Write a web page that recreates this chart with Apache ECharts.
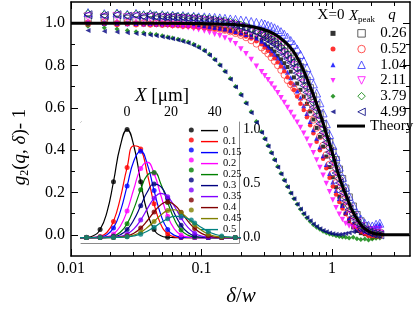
<!DOCTYPE html>
<html><head><meta charset="utf-8">
<script src="https://cdn.jsdelivr.net/npm/echarts@6/dist/echarts.min.js"></script>
<style>html,body{margin:0;padding:0;background:#fff}#c{width:415px;height:310px}</style>
</head><body><div id="c"></div>
<script>
const FONT = "'Liberation Serif','DejaVu Serif',serif";

// ---------- main panel data ----------
const deltaW = [0.0135,0.018,0.0225,0.027,0.0315,0.036,0.0405,0.045,
0.05,0.055,0.06,0.066,0.072,0.079,0.087,0.095,0.105,0.115,0.126,0.138,0.151,0.166,0.182,0.2,0.219,0.24,0.263,0.288,
0.305,0.323,0.342,0.362,0.383,0.406,0.43,0.455,0.482,0.51,0.54,0.572,0.606,0.641,0.679,0.719,0.761,0.806,0.853,0.903,0.956,1.012,1.072,1.135,1.2,1.27,
1.35,1.45,1.55,1.66,1.78,1.9,2.03,2.17,2.32];

const qLabels = ['0.26','0.52','1.04','2.11','3.79','4.99'];

// X = 0 (filled symbols)
const fill026 = [1.0,0.998,1.0,0.997,0.999,0.996,0.998,0.995,
0.997,0.994,0.996,0.993,0.994,0.99,0.992,0.988,0.986,0.985,0.981,0.978,0.974,0.97,0.964,0.958,0.95,0.942,0.932,0.92,
0.9,0.89,0.879,0.866,0.846,0.829,0.811,0.793,0.771,0.744,0.715,0.685,0.653,0.619,0.583,0.545,0.505,0.463,0.417,0.37,0.32,0.272,0.225,0.18,0.14,0.1,
0.063,0.035,0.018,0.008,0.003,0.0,-0.005,0.0,0.005];
const fill052 = [0.995,0.997,0.993,0.996,0.992,0.995,0.991,0.994,
0.99,0.992,0.989,0.99,0.987,0.986,0.984,0.982,0.98,0.977,0.973,0.97,0.965,0.96,0.953,0.946,0.937,0.927,0.915,0.9,
0.885,0.87,0.852,0.834,0.815,0.795,0.773,0.745,0.716,0.685,0.653,0.619,0.59,0.555,0.518,0.48,0.44,0.40,0.36,0.315,0.27,0.228,0.19,0.155,0.125,0.098,
0.075,0.05,0.03,0.015,0.005,-0.005,-0.015,-0.01,-0.005];
const fill104 = [1.0,0.998,1.0,0.997,0.999,0.996,0.998,0.995,
0.996,0.994,0.995,0.992,0.993,0.99,0.99,0.987,0.985,0.983,0.98,0.976,0.972,0.967,0.961,0.955,0.947,0.938,0.927,0.914,
0.9,0.886,0.87,0.853,0.835,0.815,0.793,0.768,0.742,0.712,0.68,0.646,0.61,0.573,0.535,0.496,0.456,0.415,0.374,0.332,0.29,0.25,0.21,0.172,0.138,0.107,
0.08,0.055,0.035,0.022,0.015,0.02,0.03,0.045,0.05];
const fill211 = [1.0,0.995,0.998,0.994,0.996,0.992,0.993,0.99,
0.99,0.988,0.986,0.984,0.981,0.978,0.974,0.969,0.963,0.956,0.948,0.94,0.93,0.918,0.903,0.878,0.855,0.828,0.797,0.77,
0.752,0.733,0.713,0.692,0.671,0.648,0.625,0.601,0.578,0.555,0.532,0.507,0.48,0.451,0.42,0.388,0.354,0.318,0.281,0.243,0.204,0.165,0.128,0.097,0.072,0.054,
0.042,0.035,0.03,0.028,0.026,0.025,0.027,0.03,0.028];
const fill379 = [0.985,0.978,0.972,0.965,0.96,0.955,0.95,0.946,
0.94,0.935,0.93,0.924,0.918,0.911,0.9,0.888,0.872,0.853,0.83,0.803,0.773,0.738,0.701,0.664,0.624,0.581,0.535,0.487,
0.455,0.422,0.389,0.356,0.323,0.29,0.259,0.228,0.198,0.17,0.145,0.121,0.099,0.08,0.063,0.048,0.036,0.026,0.017,0.01,0.004,0.0,-0.004,-0.008,-0.01,-0.012,
-0.015,-0.012,-0.018,-0.022,-0.02,-0.024,-0.02,-0.016,-0.015];
const fill499 = [0.965,0.962,0.958,0.955,0.951,0.948,0.944,0.94,
0.936,0.931,0.926,0.92,0.913,0.906,0.896,0.884,0.868,0.849,0.826,0.8,0.77,0.735,0.698,0.66,0.62,0.577,0.531,0.483,
0.451,0.418,0.385,0.352,0.319,0.287,0.256,0.226,0.197,0.17,0.145,0.122,0.101,0.082,0.066,0.051,0.039,0.029,0.021,0.014,0.009,0.005,0.003,0.002,0.003,0.006,
0.01,0.015,0.018,0.02,0.018,0.015,0.01,0.006,0.004];

// X = X_peak (open symbols)
const open026 = [1.02,1.025,1.018,1.022,1.015,1.02,1.016,1.018,
1.015,1.012,1.016,1.01,1.013,1.008,1.01,1.006,1.004,1.005,1.0,1.0,0.995,0.993,0.99,0.985,0.98,0.973,0.965,0.955,
0.95,0.944,0.937,0.929,0.92,0.909,0.897,0.882,0.864,0.843,0.82,0.793,0.763,0.73,0.694,0.655,0.614,0.57,0.525,0.48,0.437,0.395,0.355,0.31,0.265,0.22,
0.178,0.135,0.095,0.065,0.042,0.025,0.015,0.01,0.008];
const open052 = [1.0,1.005,0.998,1.003,0.997,1.0,0.996,0.999,
0.995,0.997,0.993,0.994,0.99,0.991,0.987,0.986,0.983,0.98,0.976,0.972,0.967,0.96,0.952,0.943,0.932,0.918,0.902,0.884,
0.87,0.855,0.838,0.82,0.8,0.778,0.755,0.73,0.71,0.692,0.673,0.652,0.628,0.602,0.574,0.543,0.505,0.465,0.422,0.378,0.333,0.289,0.246,0.205,0.166,0.13,
0.097,0.066,0.044,0.027,0.015,0.008,0.003,0.0,-0.002];
const open104 = [1.05,1.045,1.048,1.042,1.046,1.04,1.044,1.038,
1.04,1.036,1.038,1.034,1.036,1.032,1.033,1.03,1.03,1.028,1.027,1.025,1.023,1.02,1.018,1.015,1.012,1.008,1.004,1.0,
0.996,0.99,0.985,0.978,0.97,0.96,0.948,0.934,0.918,0.9,0.878,0.852,0.822,0.79,0.753,0.713,0.67,0.624,0.576,0.525,0.474,0.422,0.37,0.32,0.272,0.226,
0.182,0.14,0.103,0.075,0.055,0.045,0.042,0.05,0.055];
const open211 = [1.03,1.028,1.032,1.026,1.03,1.025,1.028,1.024,
1.025,1.022,1.024,1.02,1.021,1.017,1.018,1.014,1.012,1.01,1.006,1.003,0.999,0.994,0.988,0.981,0.973,0.964,0.954,0.942,
0.935,0.928,0.918,0.907,0.893,0.876,0.858,0.84,0.82,0.799,0.773,0.744,0.713,0.681,0.647,0.61,0.572,0.532,0.49,0.443,0.396,0.346,0.298,0.25,0.205,0.163,
0.123,0.086,0.058,0.038,0.022,0.013,0.007,0.004,0.002];
const open379 = [1.045,1.04,1.044,1.038,1.042,1.036,1.04,1.034,
1.036,1.032,1.034,1.03,1.031,1.027,1.028,1.024,1.022,1.02,1.016,1.013,1.009,1.004,0.998,0.991,0.983,0.974,0.963,0.951,
0.943,0.935,0.926,0.915,0.902,0.887,0.871,0.853,0.834,0.813,0.788,0.76,0.729,0.697,0.663,0.626,0.588,0.548,0.506,0.46,0.413,0.363,0.314,0.266,0.22,0.178,
0.137,0.099,0.068,0.045,0.028,0.017,0.01,0.005,0.003];
const open499 = [1.04,1.036,1.04,1.033,1.037,1.031,1.035,1.029,
1.03,1.027,1.029,1.025,1.026,1.022,1.022,1.019,1.016,1.014,1.01,1.007,1.002,0.997,0.991,0.984,0.976,0.967,0.957,0.945,
0.928,0.92,0.91,0.899,0.886,0.866,0.849,0.831,0.813,0.791,0.764,0.735,0.705,0.673,0.639,0.603,0.565,0.525,0.483,0.437,0.39,0.34,0.292,0.245,0.2,0.16,
0.12,0.083,0.055,0.035,0.02,0.011,0.005,0.002,0.0];

const theoryX = [0.01,0.05,0.1,0.15,0.2,0.25,0.3,0.35,0.4,0.45,0.5,0.55,0.6,0.65,0.7,0.75,0.8,0.85,0.9,0.95,1.0,1.05,1.1,1.15,1.2,1.3,1.4,1.5,1.6,1.7,1.85,2.0,2.2,2.4,2.7,3.0,3.5,3.9];
const theoryY = [1.0,1.0,0.998,0.995,0.99,0.982,0.97,0.953,0.93,0.903,0.87,0.828,0.78,0.73,0.68,0.63,0.58,0.53,0.48,0.435,0.39,0.345,0.30,0.263,0.23,0.175,0.125,0.09,0.063,0.04,0.022,0.01,0.004,0.001,0,0,0,0];

const xMajor = [0.01,0.1,1];
const xMinor = [0.02,0.03,0.04,0.05,0.06,0.07,0.08,0.09,0.2,0.3,0.4,0.5,0.6,0.7,0.8,0.9,2,3];
const yMajor = [0,0.2,0.4,0.6,0.8,1.0];
const yMinor = [0.1,0.3,0.5,0.7,0.9];

// ---------- inset data ----------
const insetX = [-21.6,-18.5,-15.4,-12.3,-9.2,-6.2,-3.1,0,3.1,6.2,9.2,12.3,15.4,18.5,21.6,24.6,27.7,30.8,33.9,37,40,43.1,46.2,49.3,52.4];
const insetLabels = ['0','0.1','0.15','0.2','0.25','0.3','0.35','0.4','0.45','0.5'];
const prof00  = [0,0.003,0.017,0.075,0.234,0.517,0.848,1.0,0.848,0.517,0.234,0.075,0.017,0.003,0,0,0,0,0,0,0,0,0,0,0];
const prof010 = [0,0,0.002,0.011,0.047,0.15,0.363,0.648,0.85,0.821,0.593,0.313,0.122,0.035,0.007,0.001,0,0,0,0,0,0,0,0,0];
const prof015 = [0,0,0.001,0.006,0.027,0.09,0.24,0.477,0.712,0.8,0.68,0.435,0.21,0.075,0.021,0.004,0.001,0,0,0,0,0,0,0,0];
const prof020 = [0,0,0,0.002,0.009,0.034,0.105,0.247,0.452,0.639,0.699,0.594,0.39,0.198,0.078,0.024,0.006,0.001,0,0,0,0,0,0,0];
const prof025 = [0,0,0,0.001,0.004,0.015,0.049,0.128,0.268,0.444,0.578,0.603,0.497,0.324,0.167,0.07,0.023,0.006,0.001,0,0,0,0,0,0];
const prof030 = [0,0,0,0,0.002,0.008,0.027,0.074,0.165,0.294,0.422,0.496,0.471,0.361,0.224,0.115,0.047,0.015,0.004,0.001,0,0,0,0,0];
const prof035 = [0,0,0,0,0.001,0.003,0.011,0.033,0.081,0.163,0.266,0.364,0.41,0.378,0.288,0.183,0.094,0.04,0.014,0.004,0.001,0,0,0,0];
const prof040 = [0,0,0,0,0,0.002,0.005,0.016,0.041,0.088,0.156,0.237,0.305,0.33,0.301,0.235,0.153,0.084,0.039,0.015,0.005,0.001,0,0,0];
const prof045 = [0,0,0,0,0,0.001,0.003,0.009,0.023,0.05,0.093,0.15,0.209,0.25,0.258,0.231,0.177,0.117,0.067,0.032,0.014,0.005,0.002,0,0];
const prof050 = [0,0,0,0,0,0.001,0.002,0.007,0.016,0.032,0.059,0.096,0.138,0.175,0.197,0.197,0.173,0.135,0.093,0.056,0.031,0.015,0.006,0.002,0.001];
const insetXTicks = [-20,-10,0,10,20,30,40,50];
const insetXLabels = [0,20,40];
const insetYTicks = [0,0.25,0.5,0.75,1.0];
const insetYLabels = [0,0.5,1.0];

// ---------- styling ----------
const qColors = ['#000000','#ff0000','#0000ff','#ff00ff','#008000','#000080'];
const openColors = ['#3a3a3a','#ff2a2a','#2a2aff','#ff00ff','#008000','#000080'];
const qSymbols = ['rect','circle','triangle','triangle','diamond','triangle'];
const qRot = [0,0,0,180,0,90];
const legendIcons = ['rect','circle','triangle','path://M0,0 L10,0 L5,10 Z','diamond','path://M10,0 L10,10 L0,5 Z'];
const fillSize = [4,4.5,5,5.5,5,5];
const openSize = [6.5,6.5,8,8,8,8];
const insetColors = ['#000000','#ff0000','#0000ff','#ff00ff','#008000','#000080','#8000ff','#800000','#808000','#008080'];

const filled = [fill026,fill052,fill104,fill211,fill379,fill499];
const opened = [open026,open052,open104,open211,open379,open499];
const profiles = [prof00,prof010,prof015,prof020,prof025,prof030,prof035,prof040,prof045,prof050];

const series = [];
filled.forEach((arr,i)=>{
  series.push({name:'f'+qLabels[i], type:'scatter', xAxisIndex:0, yAxisIndex:0,
    data: deltaW.map((x,k)=>[x,arr[k]]), symbol:qSymbols[i], symbolRotate:qRot[i], symbolSize:fillSize[i],
    itemStyle:{color:qColors[i]}, emphasis:{disabled:true}, z:2});
});
opened.forEach((arr,i)=>{
  series.push({name:qLabels[i], type:'scatter', xAxisIndex:0, yAxisIndex:0,
    data: deltaW.map((x,k)=>[x,arr[k]]), symbol:qSymbols[i], symbolRotate:qRot[i], symbolSize:openSize[i],
    itemStyle:{color:'rgba(0,0,0,0)', borderColor:openColors[i], borderWidth:0.9}, emphasis:{disabled:true}, z:3});
});
series.push({name:'Theory', type:'line', xAxisIndex:0, yAxisIndex:0, smooth:true, symbol:'none',
  data: theoryX.map((x,k)=>[x,theoryY[k]]), lineStyle:{color:'#000', width:3}, itemStyle:{color:'#000'}, z:5});

profiles.forEach((arr,i)=>{
  series.push({name:insetLabels[i], type:'line', xAxisIndex:4, yAxisIndex:4, smooth:true, symbol:'none',
    data: insetX.map((x,k)=>[x,arr[k]]), lineStyle:{color:insetColors[i], width:1.2}, itemStyle:{color:insetColors[i]}, z:6});
});
profiles.forEach((arr,i)=>{
  series.push({name:'d'+insetLabels[i], type:'scatter', xAxisIndex:4, yAxisIndex:4, symbol:'circle', symbolSize:5,
    data: insetX.map((x,k)=>[x,arr[k]]).filter((_,k)=>k%2===1), itemStyle:{color:insetColors[i]}, z:7});
});

function ax(extra){
  return Object.assign({axisLine:{show:false,onZero:false}, axisTick:{show:false}, axisLabel:{show:false}, splitLine:{show:false}}, extra);
}
const lineBlack = {show:true, onZero:false, lineStyle:{color:'#000', width:1.5}};
const lineGray = {show:true, onZero:false, lineStyle:{color:'#8a8a8a', width:1}};
const tk = (vals,len,col)=>({show:true, inside:true, length:len, customValues:vals, lineStyle:{color:col||'#000', width:1}});

const xAxis = [
  ax({type:'log', logBase:10, gridIndex:0, position:'bottom', min:0.01, max:3.95, axisLine:lineBlack, axisTick:tk(xMajor,7),
     axisLabel:{show:true, customValues:xMajor, margin:5, color:'#000', fontSize:16, fontFamily:FONT, formatter:v=>String(Number(v.toPrecision(2)))}}),
  ax({type:'log', logBase:10, gridIndex:0, position:'bottom', min:0.01, max:3.95, axisTick:tk(xMinor,4)}),
  ax({type:'log', logBase:10, gridIndex:0, position:'top', min:0.01, max:3.95, axisLine:lineBlack, axisTick:tk(xMajor,7)}),
  ax({type:'log', logBase:10, gridIndex:0, position:'top', min:0.01, max:3.95, axisTick:tk(xMinor,4)}),
  ax({type:'value', gridIndex:1, position:'top', min:-21, max:51, axisLine:lineGray, axisTick:tk(insetXTicks,3,'#555'),
     axisLabel:{show:true, customValues:insetXLabels, margin:3, color:'#000', fontSize:14, fontFamily:FONT, formatter:v=>String(v)}}),
  ax({type:'value', gridIndex:1, position:'bottom', min:-21, max:51, axisLine:lineGray, axisTick:tk(insetXTicks,3,'#555')})
];
const yAxis = [
  ax({type:'value', gridIndex:0, position:'left', min:-0.1, max:1.1, axisLine:lineBlack, axisTick:tk(yMajor,7),
     axisLabel:{show:true, customValues:yMajor, margin:6, color:'#000', fontSize:16, fontFamily:FONT, formatter:v=>Number(v).toFixed(1)}}),
  ax({type:'value', gridIndex:0, position:'left', min:-0.1, max:1.1, axisTick:tk(yMinor,4)}),
  ax({type:'value', gridIndex:0, position:'right', min:-0.1, max:1.1, axisLine:lineBlack, axisTick:tk(yMajor,7)}),
  ax({type:'value', gridIndex:0, position:'right', min:-0.1, max:1.1, axisTick:tk(yMinor,4)}),
  ax({type:'value', gridIndex:1, position:'right', min:-0.05, max:1.07, axisLine:lineGray, axisTick:tk(insetYTicks,3,'#555'),
     axisLabel:{show:true, customValues:insetYLabels, margin:4, color:'#000', fontSize:14, fontFamily:FONT, formatter:v=>Number(v).toFixed(1)}}),
  ax({type:'value', gridIndex:1, position:'left', min:-0.05, max:1.07, axisLine:lineGray, axisTick:tk(insetYTicks,3,'#555')})
];

const legTxt = (fs,lh,extra)=>Object.assign({fontSize:fs, lineHeight:lh, fontFamily:FONT, color:'#000'}, extra||{});
const legend = [
  {data: qLabels.map((q,i)=>({name:'f'+q, icon:legendIcons[i]})), orient:'vertical', left:330.5, top:25.5, padding:0,
   itemWidth:5, itemHeight:5, itemGap:0, formatter:()=>' ', textStyle:legTxt(15,15.7), selectedMode:false},
  {data: qLabels.map((q,i)=>({name:q, icon:legendIcons[i]})), orient:'vertical', left:357.3, top:25.5, padding:0,
   itemWidth:7.5, itemHeight:7.5, itemGap:0, itemStyle:{borderWidth:1},
   textStyle:legTxt(15,15.7,{padding:[0,0,0,10]}), selectedMode:false},
  {data:[{name:'Theory', icon:'rect'}], orient:'vertical', left:337, top:118.2, padding:0, itemWidth:28, itemHeight:3, itemGap:0,
   textStyle:legTxt(15,15.7), selectedMode:false},
  {data: insetLabels.map(l=>({name:'d'+l, icon:'circle'})), orient:'vertical', left:188.8, top:125.1, padding:0,
   itemWidth:5, itemHeight:5, itemGap:0, formatter:()=>' ', textStyle:legTxt(10,9.8), selectedMode:false},
  {data: insetLabels.map(l=>({name:l, icon:'rect'})), orient:'vertical', left:201, top:125.1, padding:0,
   itemWidth:17, itemHeight:1.4, itemGap:0, textStyle:legTxt(10.5,9.8), selectedMode:false}
];

const rich = (s)=>({
  i:{fontStyle:'italic', fontSize:s, fontFamily:FONT, color:'#000'},
  n:{fontSize:s, fontFamily:FONT, color:'#000'},
  s:{fontSize:Math.round(s*0.62), fontFamily:FONT, color:'#000', padding:[Math.round(s*0.55),0,0,0]}
});
const txt = (x,y,text,size,rot)=>({type:'text', x:x, y:y, rotation:rot||0, z:100,
  style:{text:text, rich:rich(size), font:size+'px '+FONT, align:'center', verticalAlign:'middle', fill:'#000'}});

const option = {
  animation:false,
  backgroundColor:'#fff',
  grid:[
    {left:71, top:2, width:339, height:254, show:false, outerBoundsMode:'none'},
    {left:81, top:122, width:158, height:121, show:true, backgroundColor:'#fff', borderWidth:0, z:1, outerBoundsMode:'none'}
  ],
  xAxis: xAxis,
  yAxis: yAxis,
  legend: legend,
  series: series,
  graphic: [
    txt(331,15,'{n|X=0}',15),
    txt(362,16,'{i|X}{s|peak}',15),
    txt(392,15,'{i|q}',15),
    txt(20,147,'{i|g}{s|2}{n|(}{i|q}{n|, }{i|δ}{n|)- 1}',19,Math.PI/2),
    txt(241,296,'{i|δ}{n|/}{i|w}',21),
    txt(162,96,'{i|X}{n| [μm]}',19)
  ]
};
const chart = echarts.init(document.getElementById('c'), null, {renderer:'canvas'});
chart.setOption(option);
</script>
</body></html>
